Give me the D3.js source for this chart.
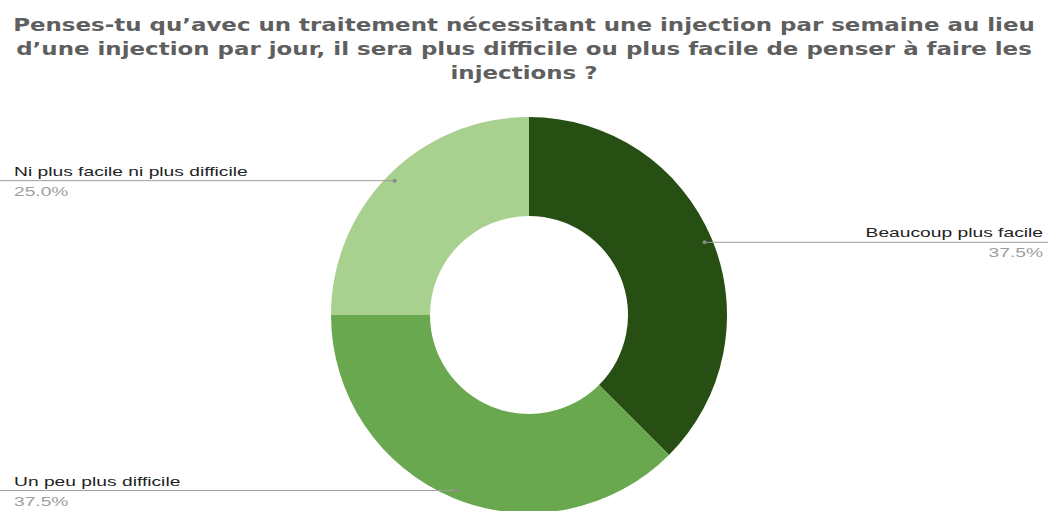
<!DOCTYPE html>
<html>
<head>
<meta charset="utf-8">
<script src="https://cdn.jsdelivr.net/npm/d3@7"></script>
<style>
  html, body { margin: 0; padding: 0; background: #fff; }
  svg { display: block; }
</style>
</head>
<body>
<svg id="chart" width="1048" height="511"></svg>
<script>
// Survey answers, in drawing order (clockwise from 12 o'clock)
const categories = ["Beaucoup plus facile", "Un peu plus difficile", "Ni plus facile ni plus difficile"];
const values = [37.5, 37.5, 25.0];
const valueLabels = ["37.5%", "37.5%", "25.0%"];
const colors = ["#274e13", "#6aa84f", "#a8d08f"];
const titleLines = [
  "Penses-tu qu’avec un traitement nécessitant une injection par semaine au lieu",
  "d’une injection par jour, il sera plus difficile ou plus facile de penser à faire les",
  "injections ?"
];

const W = 1048, H = 511;
const svg = d3.select("#chart");

// Wide lettering: text is drawn at its font size and stretched horizontally
function wideText(parent, x, y, str, opts) {
  const g = parent.append("g").attr("transform", `translate(${x},${y}) scale(${opts.sx},1)`);
  return g.append("text")
    .attr("x", 0).attr("y", 0)
    .attr("text-anchor", opts.anchor)
    .attr("font-family", opts.family)
    .attr("font-weight", opts.weight || 400)
    .attr("font-size", opts.size)
    .attr("fill", opts.fill)
    .text(str);
}

// Title
const titleG = svg.append("g");
titleLines.forEach((line, i) => {
  wideText(titleG, W / 2, 31 + i * 24, line, {
    sx: 1.24, anchor: "middle", family: "'DejaVu Sans', sans-serif",
    weight: 700, size: 18.5, fill: "#5f5f5f"
  });
});

// Donut
const cx = 529, cy = 315, rOuter = 198, rInner = 99, rLead = 190;
const pie = d3.pie().sort(null).value(d => d)(values);
const arc = d3.arc().innerRadius(rInner).outerRadius(rOuter);
const leadArc = d3.arc().innerRadius(rLead).outerRadius(rLead);

const g = svg.append("g").attr("transform", `translate(${cx},${cy})`);
g.selectAll("path")
  .data(pie)
  .join("path")
  .attr("d", arc)
  .attr("fill", (d, i) => colors[i]);

// Leader lines with labels at the chart edges
const labelG = svg.append("g");
pie.forEach((d, i) => {
  const [px, py] = leadArc.centroid(d);
  const x = cx + px, y = cy + py;
  const right = px > 0;
  labelG.append("line")
    .attr("x1", right ? x : 0)
    .attr("x2", right ? W : x)
    .attr("y1", y).attr("y2", y)
    .attr("stroke", "#9e9e9e")
    .attr("stroke-width", 1);
  labelG.append("circle")
    .attr("cx", x).attr("cy", y).attr("r", 2)
    .attr("fill", "#8a8a8a");
  const tx = right ? W - 5 : 14;
  const anchor = right ? "end" : "start";
  wideText(labelG, tx, y - 5, categories[i], {
    sx: 1.48, anchor, family: "'Liberation Sans', Arial, sans-serif",
    size: 13, fill: "#222"
  });
  wideText(labelG, tx, y + 15, valueLabels[i], {
    sx: 1.6, anchor, family: "'Liberation Sans', Arial, sans-serif",
    size: 12, fill: "#9e9e9e"
  });
});
</script>
</body>
</html>
